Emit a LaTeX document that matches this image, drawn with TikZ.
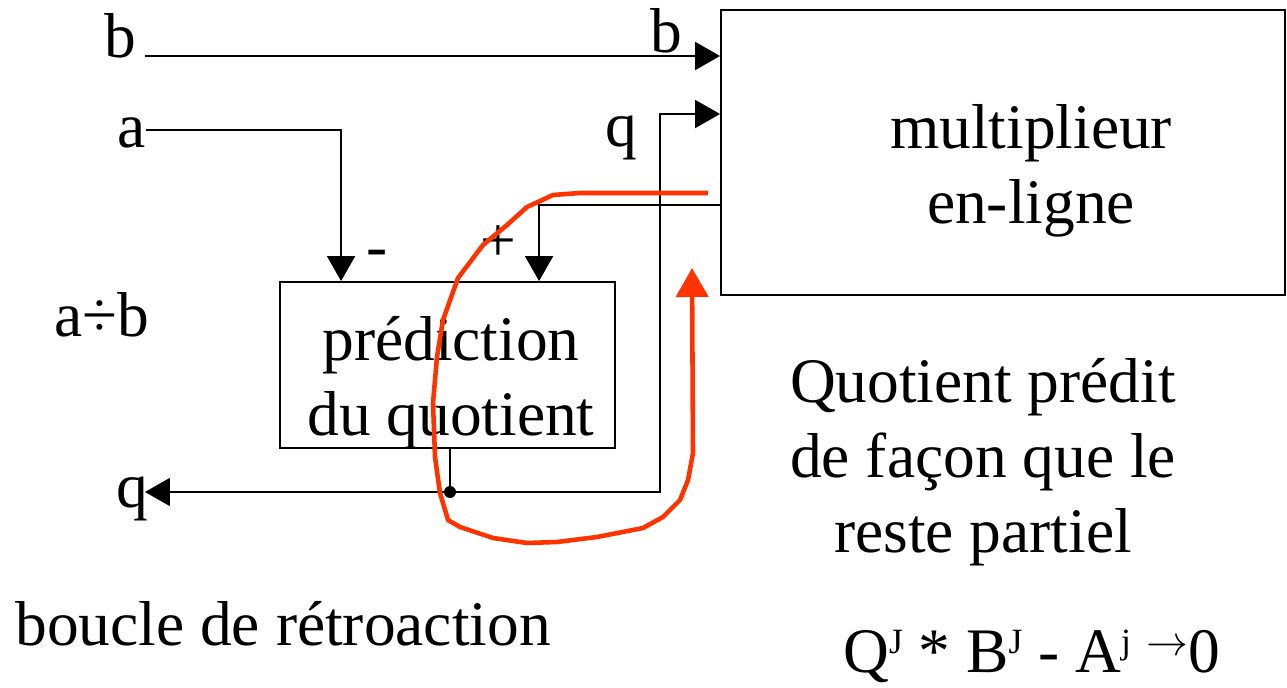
\documentclass[tikz,border=0pt]{standalone}
\usepackage{graphicx}
\usepackage{fontspec}
\setmainfont{Liberation Serif}
\usepackage{tikz}
\usetikzlibrary{positioning,arrows.meta,calc}
\definecolor{loopred}{RGB}{255,51,0}
\newcommand{\supj}[1]{\raisebox{0.38cm}{\scalebox{0.56}{#1}}}
\newcommand{\toarrow}{\raisebox{0.33cm}{\resizebox{0.84cm}{!}{$\rightarrow$}}}
\tikzset{
  lbl/.style={font=\fontsize{36.1}{42.7}\selectfont, inner sep=0pt, anchor=base},
  txt/.style={font=\fontsize{36.1}{42.7}\selectfont, inner sep=0pt, align=center},
  blk/.style={draw, line width=1.1pt},
  plain/.style={line width=1.1pt},
  wire/.style={line width=1.1pt, -{Triangle[length=0.5cm,width=0.56cm]}},
  loopline/.style={draw=loopred, line width=2.6pt, line join=round, -{Triangle[length=0.58cm,width=0.64cm]}}
}

\begin{document}
\begin{tikzpicture}[x=0.02cm, y=-0.02cm]
\useasboundingbox (0,0) rectangle (1287,688);
% blocks
\node[blk, minimum width=11.28cm, minimum height=5.7cm] (mult) at (1003,152.5) {};
\node[blk, minimum width=6.7cm, minimum height=3.32cm] (pred) at (447.5,365) {};
\node[txt] (multt) at (1031,171) {multiplieur\\en-ligne};
\node[txt] (predt) at (451,382.5) {prédiction\\du quotient};

% labels
\node[lbl] (bl) at (120,58) {b};
\node[lbl] (br) at (666,53) {b};
\node[lbl] (qr) at (621,147) {q};
\node[lbl] (al) at (132,148) {a};
\node[lbl] (minus) at (377,268) {-};
\node[lbl] (plus) at (498,262) {+};
\node[lbl] (ratio) at (102,337) {a÷b};
\node[lbl] (ql) at (132,508) {q};
\node[lbl] (boucle) at (283,645) {boucle de rétroaction};
\node[txt] (note) at (983,462.5) {Quotient prédit\\de façon que le\\reste partiel};
\node[lbl] (eqn) at (1032,672) {Q\supj{J} * B\supj{J} - A\supj{j} \toarrow0};

% wires
\coordinate (bin) at (145,56);
\coordinate (ain) at (146,130);
\coordinate (rout) at (721,205);
\coordinate (tap) at (450,492);
\coordinate (qin) at (660,114);
\coordinate (qout) at (145,492);
\draw[wire] (bin) -- (bin -| mult.west);
\draw[wire] (ain) -| ($(pred.north west)+(62,0)$);
\draw[wire] (rout) -| ($(pred.north west)+(260,0)$);
\draw[plain] (pred.south -| tap) -- (tap);
\draw[wire] (tap) -- (qout);
\draw[wire] (tap) -| (qin) -- (qin -| mult.west);
\fill (tap) circle (0.12cm);

% feedback loop
\draw[loopline] (708,193) -- (580,193) -- (553,195) -- (527,207) -- (507,225)
  -- (483,245) -- (458,278) -- (443,320) -- (437,357) -- (433,403) -- (435,457)
  -- (440,493) -- (448,520) -- (460,527) -- (493,538) -- (527,543) -- (557,542)
  -- (597,537) -- (643,528) -- (663,517) -- (680,500) -- (688,480) -- (693,453)
  -- (692,268);
\end{tikzpicture}
\end{document}
